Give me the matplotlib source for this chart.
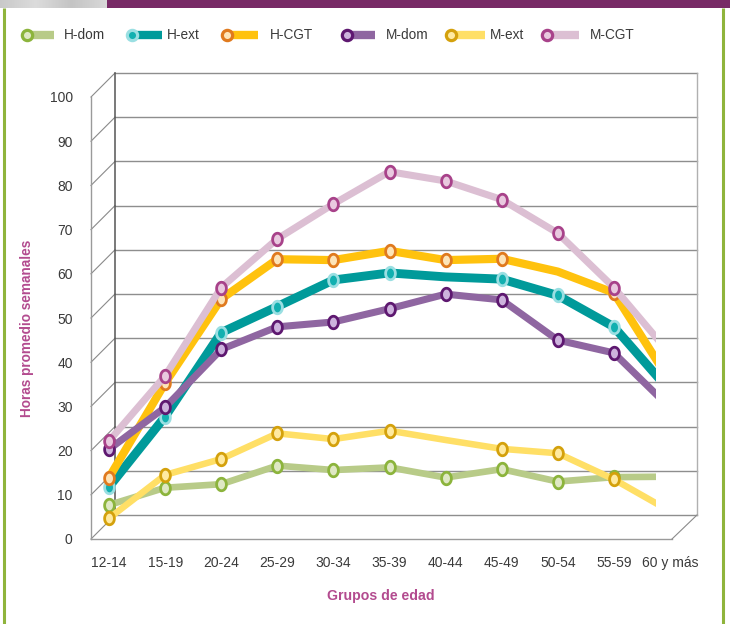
import numpy as np
import matplotlib
matplotlib.use("Agg")
import matplotlib.pyplot as plt
from matplotlib.path import Path
from matplotlib.patches import Rectangle

# ---------------- data ----------------
categories = ["12-14", "15-19", "20-24", "25-29", "30-34", "35-39",
              "40-44", "45-49", "50-54", "55-59", "60 y más"]
series_names = ["H-dom", "H-ext", "H-CGT", "M-dom", "M-ext", "M-CGT"]
H_dom = [7.7, 11.6, 12.4, 16.6, 15.6, 16.2, 13.9, 15.8, 13.0, 14.0, 14.1]
H_ext = [11.8, 27.7, 46.7, 52.6, 58.6, 60.2, 59.3, 58.8, 55.1, 48.0, 33.5]
H_CGT = [13.9, 35.3, 54.3, 63.3, 63.1, 65.2, 63.1, 63.4, 60.5, 55.7, 35.7]
M_dom = [20.3, 29.8, 42.9, 48.0, 49.1, 52.1, 55.4, 54.1, 45.0, 42.1, 29.7]
M_ext = [4.7, 14.5, 18.1, 23.9, 22.6, 24.5, 22.4, 20.4, 19.4, 13.5, 6.3]
M_CGT = [22.2, 36.9, 56.9, 67.9, 75.8, 83.1, 81.0, 76.8, 69.2, 56.9, 41.9]
y_ticks = list(range(0, 101, 10))

series_values = [H_dom, H_ext, H_CGT, M_dom, M_ext, M_CGT]
line_colors = ["#b8cb88", "#009a9a", "#ffc20e", "#8f66a1", "#ffdf66", "#dcbfd3"]
edge_colors = ["#8cb43c", "#9adfe2", "#e07a1e", "#5e1870", "#d4a10c", "#a8428a"]
face_colors = ["#dfe8c4", "#12b0b0", "#fde4b8", "#cdb3dd", "#ffeaa0", "#e9c9df"]
line_widths = [4.8, 6.4, 5.9, 5.1, 4.7, 5.1]
marker_idx = [list(range(10)), [0, 1, 2, 3, 4, 5, 7, 8, 9], [0, 1, 2, 3, 4, 5, 6, 7, 9],
              list(range(10)), [0, 1, 2, 3, 4, 5, 7, 8, 9], list(range(10))]

TITLE_C = "#b34b8f"
TXT_C = "#3a3a3a"
FONT = "Liberation Sans"
plt.rcParams["font.family"] = [FONT, "DejaVu Sans"]

W, H = 736, 624
fig = plt.figure(figsize=(W / 100, H / 100), dpi=100)

# background / decoration axes in pixel coordinates
bg = fig.add_axes([0, 0, 1, 1])
bg.set_xlim(0, W)
bg.set_ylim(H, 0)
bg.axis("off")

# top bar
grad = np.linspace(0, 1, 100).reshape(1, -1)
bg.imshow(grad, extent=(0, 107, 8, 0), cmap=matplotlib.colors.LinearSegmentedColormap.from_list(
    "g", ["#c9c9c9", "#dcdcdc", "#c4c4c4", "#d8d8d8"]), aspect="auto", zorder=1)
bg.add_patch(Rectangle((107, 0), 623, 8, color="#782a66", lw=0, zorder=1))
# green frame
bg.plot([3.5, 3.5], [8, H], color="#8fb43c", lw=2.2, solid_capstyle="butt")
bg.plot([722.5, 722.5], [8, H], color="#8fb43c", lw=2.2, solid_capstyle="butt")

# pseudo 3D box
X0F, X1F, Y0F = 91, 672, 539      # front plane
DX, DY = 24, 24                    # depth offset
PX = 4.42                          # px per unit
grid_c = "#8e8e8e"
for v in y_ticks:
    yf = Y0F - PX * v
    yb = yf - DY
    bg.plot([X0F + DX, X1F + DX + 1], [yb, yb], color=grid_c, lw=1.0, zorder=2)
    bg.plot([X0F, X0F + DX], [yf, yb], color="#8a8a8a", lw=0.8, zorder=2)
bg.plot([X0F, X0F], [Y0F, Y0F - PX * 100], color="#9a9a9a", lw=1.0, zorder=2)
bg.plot([X0F + DX, X0F + DX], [Y0F - DY, Y0F - DY - PX * 100], color="#555555", lw=1.1, zorder=2)
bg.plot([X1F + DX + 1, X1F + DX + 1], [Y0F - DY, Y0F - DY - PX * 100], color="#b0b0b0", lw=1.0, zorder=2)
bg.plot([X0F, X1F], [Y0F, Y0F], color="#9a9a9a", lw=1.0, zorder=2)
bg.plot([X1F, X1F + DX + 1], [Y0F, Y0F - DY], color="#8a8a8a", lw=0.8, zorder=2)

# ellipse marker
t = np.linspace(0, 2 * np.pi, 60)
ell = Path(np.column_stack([0.78 * np.cos(t), np.sin(t)]), closed=True)

# legend (drawn manually)
leg_x = [27, 132, 227, 347, 451, 547]
leg_end = [54, 162, 258, 375, 485, 579]
leg_txt = [64, 167, 270, 386, 490, 590]
LY = 35
for i, name in enumerate(series_names):
    bg.plot([leg_x[i], leg_end[i]], [LY, LY], color=line_colors[i], lw=6.0,
            solid_capstyle="butt", zorder=3)
    bg.plot([leg_x[i]], [LY], marker="o", ms=7.4, mew=2.3, mfc=face_colors[i],
            mec=edge_colors[i], zorder=4)
    bg.text(leg_txt[i], LY, name, fontsize=9.8, color=TXT_C, va="center", ha="left")

# ---------------- data axes ----------------
left_px, right_px = 81, 698
ax = fig.add_axes([left_px / W, (H - Y0F) / H, (right_px - left_px) / W, (PX * 100) / H])
ax.patch.set_alpha(0)
for s in ax.spines.values():
    s.set_visible(False)
ax.set_xlim(-0.5, 10.5)
ax.set_ylim(0, 100)
x = np.arange(len(categories))

clip = Rectangle((-1, -20), 10.76, 140, transform=ax.transData)
for i, vals in enumerate(series_values):
    ln, = ax.plot(x, vals, color=line_colors[i], lw=line_widths[i],
                  solid_joinstyle="round", solid_capstyle="butt", zorder=3 + i,
                  marker=ell, markevery=marker_idx[i], ms=9.0, mew=2.0,
                  mfc=face_colors[i], mec=edge_colors[i])
    ln.set_clip_path(clip)

ax.set_yticks(y_ticks)
ax.set_yticklabels([str(v) for v in y_ticks])
ax.set_xticks(x)
ax.set_xticklabels(categories)
ax.tick_params(axis="y", length=0, pad=6.0, labelsize=10, labelcolor=TXT_C)
ax.tick_params(axis="x", length=0, pad=12.0, labelsize=10, labelcolor=TXT_C)

bg.text(381, 596, "Grupos de edad", fontsize=10.2, fontweight="bold", color=TITLE_C,
        ha="center", va="center")
bg.text(27, 328, "Horas promedio semanales", fontsize=9.8, fontweight="bold",
        color=TITLE_C, ha="center", va="center", rotation=90)

fig.savefig("out.png", dpi=100)
